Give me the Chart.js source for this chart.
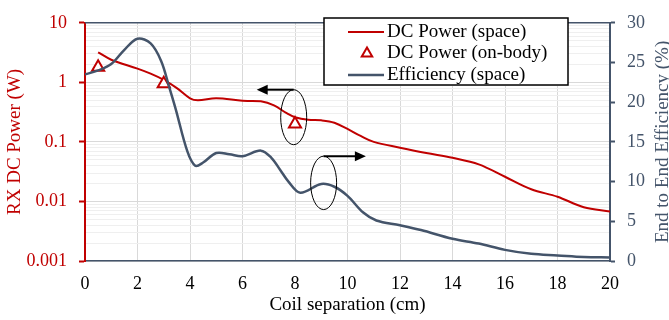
<!DOCTYPE html>
<html>
<head>
<meta charset="utf-8">
<script src="https://cdn.jsdelivr.net/npm/chart.js@4.4.0/dist/chart.umd.min.js"></script>
<style>
html, body { margin: 0; padding: 0; background: #fff; }
</style>
</head>
<body>
<canvas id="myChart" width="669" height="320"></canvas>
<script>
// data
var sepSpace = [0.5, 1, 2, 2.5, 3, 3.5, 4, 4.3, 5, 6, 6.7, 7.2, 7.7, 8, 8.5, 9, 9.5, 10, 10.5, 11, 12, 13, 14, 15, 16, 17, 18, 19, 20];
var powerSpace = [3.2, 2.4, 1.7, 1.4, 1.1, 0.8, 0.54, 0.5, 0.54, 0.49, 0.48, 0.41, 0.3, 0.26, 0.235, 0.23, 0.21, 0.165, 0.126, 0.1, 0.08, 0.065, 0.054, 0.042, 0.026, 0.016, 0.012, 0.008, 0.0068];

var sepBody = [0.5, 3, 8];
var powerBody = [1.8, 0.95, 0.2];

var sepEff = [0, 0.5, 1, 1.5, 2, 2.5, 2.9, 3.2, 3.45, 3.9, 4.2, 4.5, 5, 5.5, 6, 6.7, 7.1, 7.45, 7.75, 8.2, 9, 9.5, 10, 10.6, 11.1, 12, 12.8, 14, 15, 16, 17, 18, 19, 20];
var effSpace = [23.5, 24.0, 24.8, 26.6, 28.0, 27.4, 25.2, 22.0, 19.2, 13.8, 12.0, 12.4, 13.6, 13.45, 13.2, 13.9, 13.0, 11.4, 10.0, 8.6, 9.7, 9.35, 8.2, 6.1, 5.1, 4.5, 3.9, 2.8, 2.2, 1.4, 0.9, 0.7, 0.5, 0.45];

var sepTicks = [0, 2, 4, 6, 8, 10, 12, 14, 16, 18, 20];
var powerTicks = [0.001, 0.01, 0.1, 1, 10];
var effTicks = [0, 5, 10, 15, 20, 25, 30];

var red = '#C00000';
var slate = '#44546A';
var serif = 'Liberation Serif';

function pts(xs, ys) {
    return xs.map(function(v, i) { return {x: v, y: ys[i]}; });
}

// callouts: ellipse around a point, arrow pointing to its axis
var callouts = [
    {x: 7.95, y: 0.26, axis: 'y', rx: 13, ry: 27.5, arrowTo: 6.54},
    {x: 9.09, y: 9.84, axis: 'y2', rx: 13, ry: 26.7, arrowTo: 10.7}
];

var extras = {
    id: 'extras',
    afterDraw: function(chart) {
        var ctx = chart.ctx, area = chart.chartArea;
        var sx = chart.scales.x;
        ctx.save();

        // top frame line
        ctx.strokeStyle = slate;
        ctx.lineWidth = 1.5;
        ctx.beginPath();
        ctx.moveTo(area.left, area.top);
        ctx.lineTo(area.right, area.top);
        ctx.stroke();

        // ellipses and arrows
        callouts.forEach(function(c) {
            var cx = sx.getPixelForValue(c.x);
            var cy = chart.scales[c.axis].getPixelForValue(c.y);
            ctx.strokeStyle = '#000';
            ctx.lineWidth = 1;
            ctx.beginPath();
            ctx.ellipse(cx, cy, c.rx, c.ry, 0, 0, Math.PI * 2);
            ctx.stroke();

            var ay = cy - c.ry;
            var tip = sx.getPixelForValue(c.arrowTo);
            var dir = tip > cx ? 1 : -1;
            ctx.lineWidth = 2;
            ctx.beginPath();
            ctx.moveTo(cx, ay);
            ctx.lineTo(tip - dir * 8, ay);
            ctx.stroke();
            ctx.fillStyle = '#000';
            ctx.beginPath();
            ctx.moveTo(tip, ay);
            ctx.lineTo(tip - dir * 11, ay - 5);
            ctx.lineTo(tip - dir * 11, ay + 5);
            ctx.closePath();
            ctx.fill();
        });

        // right axis title, reading bottom to top
        ctx.save();
        ctx.translate(663, (area.top + area.bottom) / 2);
        ctx.rotate(-Math.PI / 2);
        ctx.fillStyle = slate;
        ctx.font = '19px "' + serif + '"';
        ctx.textAlign = 'center';
        ctx.textBaseline = 'middle';
        ctx.fillText('End to End Efficiency (%)', 0, 0);
        ctx.restore();

        // legend box
        var bx = 324, by = 18, bw = 244, bh = 67;
        ctx.fillStyle = '#fff';
        ctx.fillRect(bx, by, bw, bh);
        ctx.strokeStyle = '#000';
        ctx.lineWidth = 1.5;
        ctx.strokeRect(bx, by, bw, bh);
        ctx.font = '19px "' + serif + '"';
        ctx.textAlign = 'left';
        ctx.textBaseline = 'middle';
        chart.data.datasets.forEach(function(ds, i) {
            var ry = by + 14 + i * 21.5;
            if (ds.showLine === false) {
                var r = 6, mx = 367;
                ctx.strokeStyle = ds.pointBorderColor;
                ctx.fillStyle = '#fff';
                ctx.lineWidth = 2;
                ctx.beginPath();
                ctx.moveTo(mx, ry - r);
                ctx.lineTo(mx + r * 0.87, ry + r * 0.5);
                ctx.lineTo(mx - r * 0.87, ry + r * 0.5);
                ctx.closePath();
                ctx.fill();
                ctx.stroke();
            } else {
                ctx.strokeStyle = ds.borderColor;
                ctx.lineWidth = ds.borderWidth;
                ctx.beginPath();
                ctx.moveTo(348, ry);
                ctx.lineTo(384, ry);
                ctx.stroke();
            }
            ctx.fillStyle = '#000';
            ctx.fillText(ds.label, 387, ry);
        });

        ctx.restore();
    }
};

new Chart(document.getElementById('myChart'), {
    type: 'line',
    data: {
        datasets: [{
            label: 'DC Power (space)',
            data: pts(sepSpace, powerSpace),
            yAxisID: 'y',
            borderColor: red,
            borderWidth: 2,
            pointRadius: 0,
            tension: 0.35,
            fill: false,
            order: 3
        }, {
            label: 'DC Power (on-body)',
            data: pts(sepBody, powerBody),
            yAxisID: 'y',
            showLine: false,
            pointStyle: 'triangle',
            pointRadius: 7,
            pointBorderWidth: 2,
            pointBorderColor: red,
            pointBackgroundColor: '#fff',
            order: 2
        }, {
            label: 'Efficiency (space)',
            data: pts(sepEff, effSpace),
            yAxisID: 'y2',
            borderColor: slate,
            borderWidth: 2.5,
            pointRadius: 0,
            tension: 0.35,
            fill: false,
            order: 1
        }]
    },
    options: {
        responsive: false,
        animation: false,
        devicePixelRatio: 1,
        layout: { padding: { top: 12, left: 0, right: 0, bottom: 0 } },
        plugins: {
            legend: { display: false },
            tooltip: { enabled: false }
        },
        scales: {
            x: {
                type: 'linear',
                min: 0,
                max: 20,
                afterBuildTicks: function(s) {
                    s.ticks = sepTicks.map(function(v) { return {value: v}; });
                },
                afterFit: function(s) { s.height = 59; },
                grid: { color: '#d9d9d9', drawTicks: false },
                border: { color: slate, width: 1.5 },
                ticks: { color: '#000', font: { family: serif, size: 18 }, padding: 12 },
                title: {
                    display: true,
                    text: 'Coil separation (cm)',
                    color: '#000',
                    font: { family: serif, size: 19 },
                    padding: { top: 0, bottom: 4 }
                }
            },
            y: {
                type: 'logarithmic',
                position: 'left',
                min: 0.001,
                max: 10,
                afterBuildTicks: function(s) {
                    var t = [];
                    powerTicks.forEach(function(p, i) {
                        t.push({value: p, major: true});
                        if (i < powerTicks.length - 1) {
                            for (var m = 2; m <= 9; m++) t.push({value: m * p, major: false});
                        }
                    });
                    s.ticks = t;
                },
                afterFit: function(s) { s.width = 85; },
                grid: {
                    color: function(c) { return c.tick && c.tick.major ? '#d9d9d9' : '#efefef'; },
                    tickColor: function(c) { return c.tick && c.tick.major ? red : 'rgba(0,0,0,0)'; },
                    tickLength: 6,
                    tickWidth: 2
                },
                border: { color: red, width: 2 },
                ticks: {
                    color: red,
                    font: { family: serif, size: 18 },
                    padding: 12,
                    autoSkip: false,
                    callback: function(v, i, ticks) {
                        return ticks[i].major ? String(v) : '';
                    }
                },
                title: {
                    display: true,
                    text: 'RX DC Power (W)',
                    color: red,
                    font: { family: serif, size: 19 },
                    padding: { top: 4, bottom: 0 }
                }
            },
            y2: {
                type: 'linear',
                position: 'right',
                min: 0,
                max: 30,
                afterBuildTicks: function(s) {
                    s.ticks = effTicks.map(function(v) { return {value: v}; });
                },
                afterFit: function(s) { s.width = 59; },
                grid: { drawOnChartArea: false, tickColor: slate, tickLength: 5, tickWidth: 2 },
                border: { color: slate, width: 2 },
                ticks: { color: slate, font: { family: serif, size: 18 }, padding: 12 }
            }
        }
    },
    plugins: [extras]
});
</script>
</body>
</html>
